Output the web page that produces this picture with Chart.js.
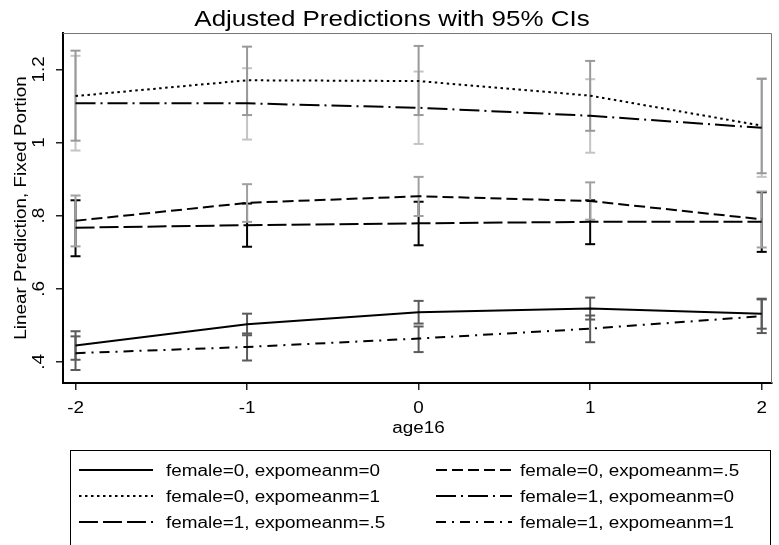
<!DOCTYPE html>
<html>
<head>
<meta charset="utf-8">
<script src="https://cdn.jsdelivr.net/npm/chart.js@4.4.1/dist/chart.umd.min.js"></script>
<style>
  html, body { margin: 0; padding: 0; background: #fff; }
  #wrap { width: 779px; height: 545px; }
</style>
</head>
<body>
<div id="wrap"><canvas id="myChart" width="779" height="545"></canvas></div>
<script>
// values
const xVals = [-2, -1, 0, 1, 2]
const xTicks = [-2, -1, 0, 1, 2]
const yTicks = [0.4, 0.6, 0.8, 1, 1.2]
const yTickLabels = ['.4', '.6', '.8', '1', '1.2']

const labels = [
  'female=0, expomeanm=0',
  'female=0, expomeanm=.5',
  'female=0, expomeanm=1',
  'female=1, expomeanm=0',
  'female=1, expomeanm=.5',
  'female=1, expomeanm=1'
]

const est_f0e0 = [0.445, 0.503, 0.536, 0.546, 0.532]
const lo_f0e0  = [0.406, 0.473, 0.505, 0.516, 0.491]
const hi_f0e0  = [0.484, 0.532, 0.567, 0.576, 0.573]

const est_f0e5 = [0.786, 0.835, 0.853, 0.840, 0.790]
const lo_f0e5  = [0.716, 0.783, 0.799, 0.789, 0.713]
const hi_f0e5  = [0.855, 0.886, 0.906, 0.891, 0.866]

const est_f0e1 = [1.127, 1.170, 1.168, 1.128, 1.046]
const lo_f0e1  = [1.005, 1.075, 1.075, 1.032, 0.916]
const hi_f0e1  = [1.251, 1.262, 1.264, 1.223, 1.174]

const est_f1e0 = [1.107, 1.107, 1.095, 1.073, 1.040]
const lo_f1e0  = [0.978, 1.008, 0.996, 0.972, 0.906]
const hi_f1e0  = [1.237, 1.203, 1.194, 1.173, 1.175]

const est_f1e5 = [0.767, 0.774, 0.779, 0.783, 0.783]
const lo_f1e5  = [0.689, 0.715, 0.719, 0.722, 0.701]
const hi_f1e5  = [0.842, 0.833, 0.838, 0.842, 0.864]

const est_f1e1 = [0.424, 0.441, 0.464, 0.491, 0.525]
const lo_f1e1  = [0.378, 0.404, 0.427, 0.454, 0.479]
const hi_f1e1  = [0.470, 0.478, 0.497, 0.527, 0.571]

const ests = [est_f0e0, est_f0e5, est_f0e1, est_f1e0, est_f1e5, est_f1e1]
const los = [lo_f0e0, lo_f0e5, lo_f0e1, lo_f1e0, lo_f1e5, lo_f1e1]
const his = [hi_f0e0, hi_f0e5, hi_f0e1, hi_f1e0, hi_f1e5, hi_f1e1]

const dashes = [[], [11, 5], [2.5, 3.5], [20, 5, 2, 5], [19, 5], [10, 6, 2, 6]]
const ciColors = ['#5a5a5a', '#a0a0a0', '#999999', '#c4c4c4', '#000000', '#5a5a5a']

const FONT = '"Liberation Sans", Arial, Helvetica, sans-serif'
const STRETCH = 1.18

function drawText(ctx, text, x, y, size, align, rot) {
  ctx.save()
  ctx.translate(x, y)
  if (rot) ctx.rotate(rot)
  ctx.scale(STRETCH, 1)
  ctx.font = size + 'px ' + FONT
  ctx.fillStyle = '#000'
  ctx.textAlign = align
  ctx.textBaseline = 'alphabetic'
  ctx.fillText(text, 0, 0)
  ctx.restore()
}

let datasets = []
// lines first so they sit on top of the CIs
for (let i = 0; i < 6; i++) {
  datasets.push({
    label: labels[i],
    data: xVals.map((x, j) => ({x: x, y: ests[i][j]})),
    borderColor: '#000',
    borderWidth: 2,
    borderDash: dashes[i],
    pointRadius: 0,
    tension: 0,
    fill: false
  })
}
for (let i = 0; i < 6; i++) {
  let pts = []
  for (let j = 0; j < xVals.length; j++) {
    pts.push({x: xVals[j], y: los[i][j]})
    pts.push({x: xVals[j], y: his[i][j]})
    pts.push({x: xVals[j], y: null})
  }
  datasets.push({
    label: 'ci' + i,
    isCI: true,
    data: pts,
    borderColor: ciColors[i],
    borderWidth: 2,
    pointStyle: 'line',
    pointRadius: 5,
    pointBorderWidth: 2,
    pointBorderColor: ciColors[i],
    spanGaps: false,
    fill: false
  })
}

const textPlugin = {
  id: 'stataText',
  beforeDatasetsDraw(chart) {
    const ctx = chart.ctx
    const a = chart.chartArea
    ctx.save()
    ctx.strokeStyle = '#777'
    ctx.lineWidth = 1
    ctx.beginPath()
    ctx.moveTo(a.left, a.top + 0.5)
    ctx.lineTo(a.right - 0.5, a.top + 0.5)
    ctx.lineTo(a.right - 0.5, a.bottom)
    ctx.stroke()
    ctx.restore()
  },
  afterDraw(chart) {
    const ctx = chart.ctx
    const xs = chart.scales.x
    const ys = chart.scales.y
    const a = chart.chartArea

    drawText(ctx, 'Adjusted Predictions with 95% CIs', 392, 26, 22, 'center', 0)

    yTicks.forEach((v, i) => {
      drawText(ctx, yTickLabels[i], 44, ys.getPixelForValue(v), 16, 'center', -Math.PI / 2)
    })
    drawText(ctx, 'Linear Prediction, Fixed Portion', 26, (a.top + a.bottom) / 2, 16, 'center', -Math.PI / 2)

    xTicks.forEach((v) => {
      drawText(ctx, String(v), xs.getPixelForValue(v), 413, 16, 'center', 0)
    })
    drawText(ctx, 'age16', xs.getPixelForValue(0), 433, 16, 'center', 0)

    // legend
    ctx.save()
    ctx.strokeStyle = '#000'
    ctx.lineWidth = 1
    ctx.strokeRect(70.5, 450.5, 700, 120)
    ctx.restore()
    const lines = chart.data.datasets.filter(d => !d.isCI)
    const colLine = [[79, 153], [436, 512]]
    const colText = [166, 520]
    lines.forEach((d, i) => {
      const col = i % 2
      const row = Math.floor(i / 2)
      const base = 476 + row * 26
      ctx.save()
      ctx.strokeStyle = '#000'
      ctx.lineWidth = 2
      ctx.setLineDash(d.borderDash)
      ctx.beginPath()
      ctx.moveTo(colLine[col][0], base - 6)
      ctx.lineTo(colLine[col][1], base - 6)
      ctx.stroke()
      ctx.restore()
      drawText(ctx, d.label, colText[col], base, 16, 'left', 0)
    })
  }
}

let ctx = document.getElementById('myChart')
new Chart(ctx, {
  type: 'line',
  data: { datasets: datasets },
  plugins: [textPlugin],
  options: {
    responsive: false,
    animation: false,
    devicePixelRatio: 1,
    layout: { padding: { left: 56, right: 2, top: 33, bottom: 155 } },
    plugins: {
      legend: { display: false },
      tooltip: { enabled: false },
      title: { display: false }
    },
    scales: {
      x: {
        type: 'linear',
        min: -2.073,
        max: 2.060,
        afterBuildTicks: (s) => { s.ticks = xTicks.map(v => ({value: v})) },
        ticks: { display: false },
        grid: { drawOnChartArea: false, drawTicks: true, tickLength: 7, color: '#222', lineWidth: 1.5 },
        border: { display: true, color: '#000', width: 2 }
      },
      y: {
        type: 'linear',
        min: 0.3425,
        max: 1.2993,
        afterBuildTicks: (s) => { s.ticks = yTicks.map(v => ({value: v})) },
        ticks: { display: false },
        grid: { drawOnChartArea: false, drawTicks: true, tickLength: 7, color: '#222', lineWidth: 1.5 },
        border: { display: true, color: '#000', width: 2 }
      }
    }
  }
})
</script>
</body>
</html>
